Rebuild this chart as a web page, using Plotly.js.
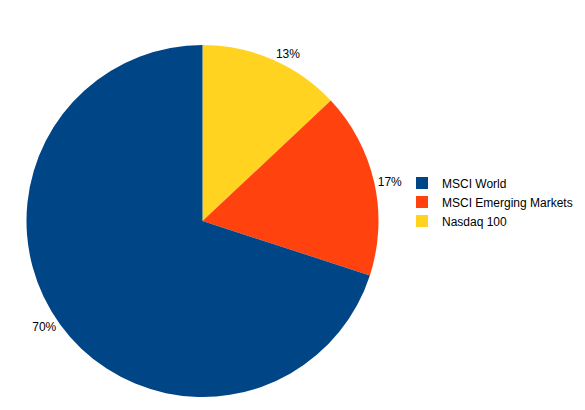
<!DOCTYPE html>
<html><head><meta charset="utf-8">
<script src="https://cdn.plot.ly/plotly-3.0.1.min.js"></script>
<style>html,body{margin:0;padding:0;background:#fff}#c{width:585px;height:410px}</style>
</head><body><div id="c"></div>
<script>
// listed clockwise from 12 o'clock; legend shows them reversed
const labels = ["Nasdaq 100", "MSCI Emerging Markets", "MSCI World"];
const values = [13, 17, 70];
const colors = ["#ffd320", "#ff420e", "#004586"];

Plotly.newPlot("c", [{
  type: "pie",
  labels: labels,
  values: values,
  sort: false,
  direction: "clockwise",
  rotation: 0,
  marker: {colors: colors, line: {width: 0}},
  textinfo: "percent",
  texttemplate: "%{percent:.0%}",
  textposition: "outside",
  outsidetextfont: {family: "Liberation Sans, Arial, sans-serif", size: 12, color: "#000"},
  domain: {x: [26.5/585, 378.5/585], y: [(410-397)/410, (410-45)/410]},
  hoverinfo: "label+percent",
  automargin: false
}], {
  width: 585, height: 410,
  margin: {l: 0, r: 0, t: 0, b: 0},
  paper_bgcolor: "#fff",
  showlegend: true,
  legend: {x: 402/585, xanchor: "left", y: (410-202)/410, yanchor: "middle",
    font: {family: "Liberation Sans, Arial, sans-serif", size: 12, color: "#000"},
    bgcolor: "rgba(0,0,0,0)", traceorder: "reversed"},
  font: {family: "Liberation Sans, Arial, sans-serif", size: 12, color: "#000"}
}, {displayModeBar: false, staticPlot: true});
</script></body></html>
